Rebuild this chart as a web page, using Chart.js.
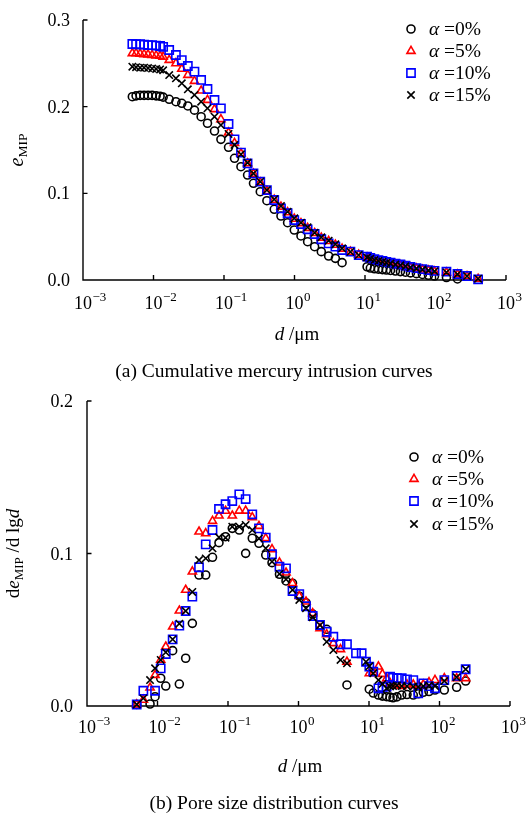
<!DOCTYPE html>
<html><head><meta charset="utf-8">
<script src="https://cdn.jsdelivr.net/npm/chart.js@4.4.0/dist/chart.umd.min.js"></script>
<style>
html,body{margin:0;padding:0;background:#fff;}
body{width:528px;height:814px;position:relative;overflow:hidden;}
canvas{position:absolute;left:0;}
.cap{position:absolute;left:0;width:548px;text-align:center;font-family:"Liberation Serif","Times New Roman",serif;font-size:19.5px;line-height:22px;color:#000;white-space:nowrap;}
</style></head><body>
<canvas id="c1" width="528" height="390" style="top:0px"></canvas>
<canvas id="c2" width="528" height="424" style="top:390px"></canvas>
<div class="cap" style="top:360px">(a) Cumulative mercury intrusion curves</div>
<div class="cap" style="top:792px">(b) Pore size distribution curves</div>
<script>
// ---------- DATA ----------
const seriesLabels = ['0%', '5%', '10%', '15%'];
const xTickExp = [-3, -2, -1, 0, 1, 2, 3];
const yTicksTop = [0, 0.1, 0.2, 0.3];
const yLabelsTop = ['0.0', '0.1', '0.2', '0.3'];
const yTicksBot = [0, 0.1, 0.2];
const yLabelsBot = ['0.0', '0.1', '0.2'];

// (a) cumulative intrusion: pore diameter d (um)
const dTop = [0.00501,0.00566,0.00646,0.00735,0.00837,0.00955,0.0109,0.0124,0.0137,
  0.0167,0.0208,0.0252,0.0307,0.0381,0.0474,0.0583,0.0733,0.0904,0.116,0.141,0.174,0.216,0.262,0.327,0.406,0.516,0.643,0.798,0.993,1.236,1.535,1.93,2.40,3.05,3.80,4.73,
  6.21,8.14,10.7,
  11.9,13.6,15.5,17.7,20.1,23.0,27.0,31.8,37.5,44.2,53.7,65.3,79.5,96.8,
  143,205,280,402];
const eTop0 = [0.2115,0.2125,0.213,0.213,0.213,0.213,0.2125,0.212,0.211,
  0.2085,0.2057,0.2039,0.2008,0.196,0.1884,0.1808,0.1719,0.1623,0.1531,0.1404,0.1307,0.1211,0.1116,0.1019,0.0915,0.0816,0.0738,0.0661,0.0577,0.0508,0.0442,0.0384,0.0327,0.0277,0.025,0.020,
  null,null,0.0153,
  0.0138,0.013,0.0125,0.012,0.0115,0.011,0.0104,0.0097,0.009,0.0082,0.0073,0.0064,0.0055,0.0046,
  0.0028,0.0012,null,null];
const eTop5 = [0.2616,0.2615,0.261,0.2605,0.26,0.2595,0.259,0.2585,0.2575,
  0.2538,0.250,0.2435,0.2365,0.2296,0.2184,0.2077,0.197,0.1854,0.17,0.158,0.146,0.1345,0.1225,0.1125,0.1025,0.0925,0.0845,0.078,0.0705,0.0655,0.06,0.054,0.0487,0.0448,0.0405,0.036,
  0.0325,0.029,0.0258,
  0.0243,0.0228,0.0218,0.0208,0.0198,0.0188,0.0178,0.0168,0.0156,0.0143,0.0131,0.0119,0.0108,0.0098,
  0.0086,0.0064,0.0043,0.0012];
const eTop10 = [0.2723,0.272,0.272,0.2715,0.271,0.271,0.2705,0.270,0.269,
  0.2654,0.2596,0.2538,0.2469,0.2404,0.2308,0.2204,0.2077,0.1981,0.18,0.1623,0.147,0.1346,0.123,0.1134,0.1038,0.0923,0.0827,0.077,0.0692,0.0646,0.0585,0.0531,0.047,0.0423,0.0384,0.0346,
  0.0327,0.0288,0.027,
  0.0255,0.024,0.023,0.022,0.021,0.020,0.019,0.018,0.0165,0.015,0.0138,0.0125,0.0115,0.0105,
  0.0096,0.0069,0.0046,0.0008];
const eTop15 = [0.2461,0.2455,0.245,0.245,0.2445,0.244,0.2435,0.243,0.242,
  0.2365,0.2327,0.227,0.22,0.2135,0.2057,0.1981,0.1884,0.1788,0.1685,0.1558,0.145,0.1353,0.123,0.1134,0.1038,0.0931,0.0854,0.0788,0.0712,0.0661,0.0608,0.0546,0.0493,0.0454,0.0412,0.0366,
  0.0325,0.0288,0.026,
  0.0245,0.023,0.022,0.021,0.020,0.019,0.018,0.017,0.0158,0.0145,0.0133,0.012,0.011,0.010,
  0.0088,0.0066,0.0045,0.0015];

// (b) pore size distribution
const dBot = [0.00507,0.0063,0.00784,0.00923,0.0111,0.0131,0.0164,0.0204,0.0251,0.0312,0.0388,0.0483,0.0603,0.0745,0.0923,0.115,0.1445,0.178,0.221,0.275,0.343,0.421,0.537,0.665,0.822,1.026,1.277,1.59,2.02,2.51,3.12,3.94,4.87,6.54,7.87,
  9.07,10.1,11.5,13.6,15.5,17.8,19.9,21.9,24.9,29.1,34.6,42.5,50.0,58.9,71.0,86.3,117,175,235];
const pBot0 = [0.001,null,0.0013,0.0061,0.0182,0.0131,0.0363,0.0144,0.0313,0.0542,0.0859,0.0859,0.0975,0.1071,0.111,0.1165,0.1154,0.1001,0.11,0.1067,0.099,0.094,0.0864,0.082,0.0805,0.072,0.0677,0.0603,0.0531,0.0503,null,null,0.0138,null,null,
  null,0.011,0.0085,0.0072,0.0065,0.0061,0.0058,0.0054,0.006,0.0072,0.0075,0.0072,0.008,0.009,0.0095,0.0105,0.0105,0.0123,0.0164];
const pBot5 = [0.001,0.004,0.012,0.0203,0.0302,0.0389,0.052,0.0625,0.0761,0.0881,0.1143,0.1132,0.1213,0.1248,0.1279,0.1248,0.128,0.128,0.1237,0.118,0.110,0.1028,0.094,0.0874,0.0805,0.072,0.0684,0.0608,0.051,0.047,0.0411,0.0372,0.029,null,null,
  null,0.0214,0.022,0.0258,0.021,0.018,0.015,0.014,0.0135,0.0131,0.014,0.014,0.013,0.014,0.0155,0.017,0.0182,0.0182,0.0182];
const pBot10 = [0.001,0.010,null,0.010,0.0247,0.0341,0.0437,0.0527,0.0623,0.0717,0.091,0.106,0.1154,0.1292,0.1323,0.1344,0.1388,0.1357,0.1257,0.1165,0.1104,0.0995,0.0913,0.0903,0.0754,0.0734,0.0654,0.059,0.0531,0.0487,0.0454,0.0405,0.0405,0.0346,0.0346,
  0.029,0.0258,0.0225,0.0116,0.0125,0.0127,0.0192,0.0185,0.0182,0.0182,0.0175,0.017,0.0083,0.0149,0.013,0.0116,0.017,0.0197,0.0241];
const pBot15 = [0.001,0.005,0.017,0.0247,0.0302,0.0352,0.0437,0.054,0.0623,0.0748,0.0957,0.0968,0.1034,0.1106,0.1104,0.1176,0.1176,0.1187,0.1154,0.1099,0.1034,0.0946,0.0866,0.0831,0.0761,0.0695,0.0641,0.0582,0.053,0.0421,0.0367,0.0302,0.028,null,null,
  0.029,0.026,0.0214,0.017,0.0145,0.0116,0.0128,0.0131,0.0135,0.0131,0.013,0.0127,0.0125,0.013,0.0135,0.0131,0.0164,0.0188,0.0241];

// ---------- STYLE ----------
const SERIF = '"Liberation Serif","Times New Roman",serif';
const markers = [
  {style:'circle',   r:4.0, color:'#000000'},
  {style:'triangle', r:4.7, color:'#ff0000'},
  {style:'rect',     r:5.8, color:'#0000ff'},
  {style:'crossRot', r:5.2, color:'#000000'}
];
const drawOrder = [3, 2, 1, 0];

function richWidth(ctx, segs){ let w=0; segs.forEach(s=>{ctx.font=s.f; w+=ctx.measureText(s.t).width;}); return w; }
function drawRich(ctx, segs, x, y, align){
  const w = richWidth(ctx, segs);
  let cx = align==='center' ? x-w/2 : (align==='right' ? x-w : x);
  ctx.textAlign='left';
  segs.forEach(s=>{ ctx.font=s.f; ctx.fillText(s.t, cx, y+(s.dy||0)); cx += ctx.measureText(s.t).width; });
}

const axesPlugin = {
  id: 'customAxes',
  beforeDatasetsDraw(chart, args, o) {
    const ctx = chart.ctx, a = chart.chartArea, xs = chart.scales.x, ys = chart.scales.y;
    ctx.save();
    ctx.strokeStyle = '#000'; ctx.lineWidth = 1.4;
    ctx.beginPath();
    ctx.moveTo(a.left, a.top); ctx.lineTo(a.left, a.bottom); ctx.lineTo(a.right, a.bottom);
    o.yTicks.forEach(v => { const py = ys.getPixelForValue(v); ctx.moveTo(a.left, py); ctx.lineTo(a.left + 4.5, py); });
    xTickExp.forEach(e => { const px = xs.getPixelForValue(Math.pow(10, e)); ctx.moveTo(px, a.bottom); ctx.lineTo(px, a.bottom - 5); });
    ctx.stroke();
    ctx.fillStyle = '#000'; ctx.textBaseline = 'alphabetic';
    ctx.font = '18px ' + SERIF; ctx.textAlign = 'right';
    o.yTicks.forEach((v, i) => ctx.fillText(o.yLabels[i], a.left - o.yLabGap, ys.getPixelForValue(v) + 6));
    ctx.textAlign = 'left';
    xTickExp.forEach(e => {
      const px = xs.getPixelForValue(Math.pow(10, e));
      ctx.font = '18px ' + SERIF;
      const w = ctx.measureText('10').width;
      const base = a.bottom + o.xLabOff;
      ctx.fillText('10', px - w/2, base);
      ctx.font = '13px ' + SERIF;
      ctx.fillText(e < 0 ? '\u2212' + (-e) : String(e), px + w/2 + 0.5, base - 8);
    });
    // x title
    drawRich(ctx, [{t:'d', f:'italic 19px '+SERIF}, {t:' /\u03bcm', f:'19px '+SERIF}], o.xTitleX, a.bottom + o.xTitleOff, 'center');
    // y title
    ctx.save();
    ctx.translate(o.yTitleX, (a.top + a.bottom)/2);
    ctx.rotate(-Math.PI/2);
    drawRich(ctx, o.yTitle, 0, 6, 'center');
    ctx.restore();
    ctx.restore();
  },
  afterDatasetsDraw(chart, args, o) {
    const ctx = chart.ctx;
    ctx.save();
    seriesLabels.forEach((lab, i) => {
      const m = markers[i];
      ctx.strokeStyle = m.color; ctx.fillStyle = 'rgba(0,0,0,0)'; ctx.lineWidth = 1.6;
      Chart.helpers.drawPoint(ctx, {pointStyle:m.style, radius:m.r, rotation:0, borderWidth:1.6}, o.legX, o.legY[i]);
      ctx.fillStyle = '#000'; ctx.textBaseline = 'alphabetic';
      drawRich(ctx, [{t:'\u03b1', f:'italic 19.5px '+SERIF}, {t:' =' + lab, f:'19.5px '+SERIF}], o.legTX, o.legY[i] + 6, 'left');
    });
    ctx.restore();
  }
};

function buildDatasets(xs, lists) {
  return lists.map((vals, i) => ({
    label: '\u03b1=' + seriesLabels[i],
    data: xs.map((d, k) => vals[k] == null ? null : {x: d, y: vals[k]}).filter(p => p),
    showLine: false,
    pointStyle: markers[i].style,
    pointRadius: markers[i].r,
    pointBorderColor: markers[i].color,
    pointBackgroundColor: 'rgba(0,0,0,0)',
    pointBorderWidth: 1.6,
    clip: false,
    order: drawOrder[i]
  }));
}

function makeChart(id, xs, lists, yMax, pad, axOpts) {
  return new Chart(document.getElementById(id), {
    type: 'scatter',
    data: { datasets: buildDatasets(xs, lists) },
    options: {
      responsive: false, animation: false, devicePixelRatio: 1, events: [],
      layout: { padding: pad },
      plugins: { legend: {display:false}, tooltip: {enabled:false}, customAxes: axOpts },
      scales: {
        x: { type: 'logarithmic', min: 1e-3, max: 1e3, display: false },
        y: { type: 'linear', min: 0, max: yMax, display: false }
      }
    },
    plugins: [axesPlugin]
  });
}

makeChart('c1', dTop, [eTop0, eTop5, eTop10, eTop15], 0.3,
  {left:83, right:22, top:20, bottom:110},
  { yTicks: yTicksTop, yLabels: yLabelsTop, yLabGap: 13, xLabOff: 29, xTitleOff: 60, xTitleX: 297,
    yTitleX: 17, yTitle: [{t:'e', f:'italic 20px '+SERIF}, {t:'MIP', f:'13.5px '+SERIF, dy:4}],
    legX: 411, legY: [29, 51, 73, 95], legTX: 429 });

makeChart('c2', dBot, [pBot0, pBot5, pBot10, pBot15], 0.2,
  {left:87, right:18, top:11, bottom:108},
  { yTicks: yTicksBot, yLabels: yLabelsBot, yLabGap: 14, xLabOff: 27, xTitleOff: 66, xTitleX: 300,
    yTitleX: 13, yTitle: [{t:'d', f:'19px '+SERIF}, {t:'e', f:'italic 19px '+SERIF}, {t:'MIP', f:'13px '+SERIF, dy:4}, {t:' /d lg', f:'19px '+SERIF}, {t:'d', f:'italic 19px '+SERIF}],
    legX: 414, legY: [67, 89, 111, 134], legTX: 432 });
</script>
</body></html>
